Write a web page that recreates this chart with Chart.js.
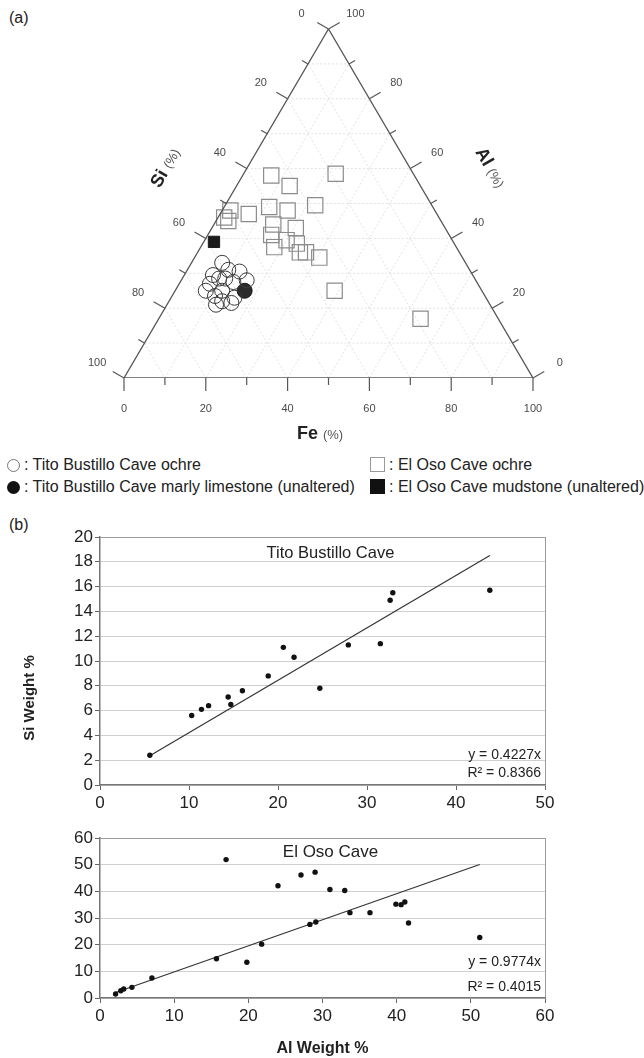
<!DOCTYPE html>
<html>
<head>
<meta charset="utf-8">
<script src="https://cdn.jsdelivr.net/npm/chart.js@4.4.0/dist/chart.umd.min.js"></script>
<style>
  body { margin: 0; background: #fff; font-family: "Liberation Sans", Arial, sans-serif; color: #222; }
  #page { position: relative; width: 644px; height: 1058px; overflow: hidden; }
  canvas { position: absolute; left: 0; }
  .lab { position: absolute; font-size: 16px; line-height: 18px; white-space: nowrap; color: #222; }
  .sym { display: inline-block; box-sizing: border-box; vertical-align: -2px; margin-right: 4px; }
</style>
</head>
<body>
<div id="page">
  <div class="lab" style="left:9px;top:9px">(a)</div>
  <canvas id="tern" width="644" height="450" style="top:0"></canvas>

  <div class="lab" style="left:7px;top:456px"><span class="sym" style="width:13px;height:13px;border:1.3px solid #777;border-radius:50%"></span>: Tito Bustillo Cave ochre</div>
  <div class="lab" style="left:7px;top:478px"><span class="sym" style="width:13px;height:13px;background:#111;border-radius:50%"></span>: Tito Bustillo Cave marly limestone (unaltered)</div>
  <div class="lab" style="left:370px;top:456px"><span class="sym" style="width:15px;height:15px;border:1.3px solid #999"></span>: El Oso Cave ochre</div>
  <div class="lab" style="left:370px;top:478px"><span class="sym" style="width:15px;height:15px;background:#111"></span>: El Oso Cave mudstone (unaltered)</div>

  <div class="lab" style="left:9px;top:516px">(b)</div>
  <canvas id="tito" width="644" height="310" style="top:505px"></canvas>
  <canvas id="oso" width="644" height="243" style="top:815px"></canvas>
</div>

<script>
// ternary compositions, [Si, Al, Fe] in %
const titoOchre = [
  [59.5, 33, 7.5], [63.5, 29.5, 7], [59, 31, 10], [56.5, 30.5, 13],
  [65.5, 27, 7.5], [62.5, 28.5, 9], [61, 28.5, 10.5], [59.5, 27.5, 13],
  [56, 28, 16], [66, 23.5, 10.5], [65, 22, 13], [61.5, 23, 15.5],
  [67, 21, 12], [63, 21.5, 15.5], [67.5, 25, 7.5], [63.5, 25, 11.5]
];
const titoLimestone = [[58, 25, 17]];
const osoOchre = [
  [35, 58, 7], [32, 55, 13], [19, 58.5, 22.5], [40, 49, 11], [36, 48, 16],
  [28.5, 49.5, 22], [46, 47, 7], [50, 48, 2], [52.5, 46, 1.5], [52, 45, 3],
  [41.5, 44, 14.5], [36.5, 43, 20.5], [43.5, 41, 15.5], [44.5, 37.5, 18],
  [40.5, 39.5, 20], [38.5, 38.5, 23], [39, 36, 25], [37.5, 36, 26.5],
  [35, 34.5, 30.5], [36, 25, 39], [19, 17, 64]
];
const osoMudstone = [[58.5, 39, 2.5]];
const ternTicks = [0, 10, 20, 30, 40, 50, 60, 70, 80, 90, 100];

// weight % scatter (Al on x, Si on y)
const titoAl = [5.6, 10.3, 11.4, 12.2, 14.4, 14.7, 16.0, 18.9, 20.6, 21.8, 24.7, 27.9, 31.5, 32.6, 32.9, 43.8];
const titoSi = [2.4, 5.6, 6.1, 6.4, 7.1, 6.5, 7.6, 8.8, 11.1, 10.3, 7.8, 11.3, 11.4, 14.9, 15.5, 15.7];
const titoSlope = 0.4227, titoR2 = 0.8366;

const osoAl = [2.1, 2.8, 3.2, 4.3, 7.0, 15.7, 17.0, 19.8, 21.8, 24.0, 27.1, 28.3, 29.1, 29.0, 31.0, 33.0, 33.7, 36.4, 39.9, 40.6, 41.1, 41.6, 51.2];
const osoSi = [1.5, 2.7, 3.4, 4.0, 7.5, 14.7, 51.9, 13.4, 20.2, 42.1, 46.1, 27.6, 28.5, 47.2, 40.7, 40.3, 32.0, 32.0, 35.2, 35.0, 36.0, 28.1, 22.7];
const osoSlope = 0.9774, osoR2 = 0.4015;

const FONT = '"Liberation Sans", Arial, sans-serif';

const toXY = ([si, al, fe]) => ({ x: fe + al / 2, y: al });

function seg(ctx, a, b) {
  ctx.beginPath();
  ctx.moveTo(a[0], a[1]);
  ctx.lineTo(b[0], b[1]);
  ctx.stroke();
}

function axisTitle(ctx, x, y, rot, bold, rest) {
  ctx.save();
  ctx.translate(x, y);
  ctx.rotate(rot);
  ctx.textAlign = 'left';
  ctx.textBaseline = 'middle';
  ctx.font = 'bold 18px ' + FONT;
  const w1 = ctx.measureText(bold + ' ').width;
  ctx.font = '13px ' + FONT;
  const w2 = ctx.measureText(rest).width;
  const s = -(w1 + w2) / 2;
  ctx.font = 'bold 18px ' + FONT;
  ctx.fillStyle = '#222';
  ctx.fillText(bold, s, 0);
  ctx.font = '13px ' + FONT;
  ctx.fillStyle = '#555';
  ctx.fillText(rest, s + w1, 1);
  ctx.restore();
}

const ternaryAxes = {
  id: 'ternaryAxes',
  beforeDatasetsDraw(chart) {
    const { ctx, scales: { x, y } } = chart;
    const pt = c => { const q = toXY(c); return [x.getPixelForValue(q.x), y.getPixelForValue(q.y)]; };
    ctx.save();
    ctx.strokeStyle = '#e2e2e2';
    ctx.lineWidth = 1;
    ctx.setLineDash([2, 2]);
    ternTicks.forEach(k => {
      if (k === 0 || k === 100) return;
      seg(ctx, pt([100 - k, k, 0]), pt([0, k, 100 - k]));
      seg(ctx, pt([100 - k, 0, k]), pt([0, 100 - k, k]));
      seg(ctx, pt([k, 100 - k, 0]), pt([k, 0, 100 - k]));
    });
    ctx.restore();
  },
  afterDatasetsDraw(chart) {
    const { ctx, scales: { x, y } } = chart;
    const pt = c => { const q = toXY(c); return [x.getPixelForValue(q.x), y.getPixelForValue(q.y)]; };
    ctx.save();
    ctx.strokeStyle = '#555';
    ctx.lineWidth = 1.2;
    ctx.fillStyle = '#4a4a4a';
    ctx.font = '11px ' + FONT;
    ctx.textAlign = 'center';
    ctx.textBaseline = 'middle';
    const down = [0, 1], left = [-0.866, -0.5], right = [0.866, -0.5];
    ternTicks.forEach(k => {
      const major = k % 20 === 0;
      const len = major ? 13 : 7;
      [[[100 - k, 0, k], down], [[k, 100 - k, 0], left], [[0, k, 100 - k], right]].forEach(([c, d]) => {
        const p = pt(c);
        seg(ctx, p, [p[0] + d[0] * len, p[1] + d[1] * len]);
        if (major) ctx.fillText(String(k), p[0] + d[0] * 31, p[1] + d[1] * 31);
      });
    });
    ctx.restore();
    axisTitle(ctx, 166, 168, -Math.PI / 3, 'Si', '(%)');
    axisTitle(ctx, 490, 168, Math.PI / 3, 'Al', '(%)');
    axisTitle(ctx, 320, 434, 0, 'Fe', '(%)');
  }
};

new Chart(document.getElementById('tern'), {
  type: 'scatter',
  data: {
    datasets: [
      {
        type: 'line',
        data: [[100, 0, 0], [0, 0, 100], [0, 100, 0], [100, 0, 0]].map(toXY),
        borderColor: '#555', borderWidth: 1.3, pointRadius: 0, fill: false
      },
      {
        data: osoOchre.map(toXY), pointStyle: 'rect', pointRadius: 10.8,
        backgroundColor: 'rgba(0,0,0,0)', borderColor: '#8c8c8c', borderWidth: 1.2, clip: false
      },
      {
        data: osoMudstone.map(toXY), pointStyle: 'rect', pointRadius: 8,
        backgroundColor: '#1a1a1a', borderColor: '#1a1a1a', borderWidth: 1, clip: false
      },
      {
        data: titoOchre.map(toXY), pointStyle: 'circle', pointRadius: 7.5,
        backgroundColor: 'rgba(0,0,0,0)', borderColor: '#3a3a3a', borderWidth: 1, clip: false
      },
      {
        data: titoLimestone.map(toXY), pointStyle: 'circle', pointRadius: 7.5,
        backgroundColor: '#2a2a2a', borderColor: '#1a1a1a', borderWidth: 1, clip: false
      }
    ]
  },
  options: {
    responsive: false,
    animation: false,
    layout: { padding: { left: 124, right: 111, top: 29, bottom: 72 } },
    scales: {
      x: { type: 'linear', min: 0, max: 100, display: false },
      y: { type: 'linear', min: 0, max: 100, display: false }
    },
    plugins: { legend: { display: false }, tooltip: { enabled: false } }
  },
  plugins: [ternaryAxes]
});

const chartNotes = {
  id: 'chartNotes',
  afterDraw(chart, args, o) {
    const { ctx, chartArea: a } = chart;
    ctx.save();
    ctx.fillStyle = '#222';
    ctx.textBaseline = 'middle';
    ctx.textAlign = 'center';
    ctx.font = o.nameFont + ' ' + FONT;
    ctx.fillText(o.name, (a.left + a.right) / 2 + 8, a.top + o.nameDy);
    ctx.font = '14px ' + FONT;
    ctx.textAlign = 'right';
    ctx.fillText('y = ' + o.slope + 'x', a.right - 4, a.bottom - o.eqDy);
    ctx.fillText('R\u00b2 = ' + o.r2, a.right - 4, a.bottom - o.r2Dy);
    if (o.yTitle) {
      ctx.translate(30, o.yTitleY);
      ctx.rotate(-Math.PI / 2);
      ctx.textAlign = 'center';
      ctx.font = 'bold 15px ' + FONT;
      ctx.fillText(o.yTitle, 0, 0);
    }
    ctx.restore();
  }
};

function weightChart(id, al, si, slope, xMax, yMax, yStep, padTop, xHeight, xTitle, notes) {
  const lo = Math.min(...al), hi = Math.max(...al);
  return new Chart(document.getElementById(id), {
    type: 'scatter',
    data: {
      datasets: [
        {
          data: al.map((v, i) => ({ x: v, y: si[i] })),
          pointRadius: 2.7, backgroundColor: '#111', borderWidth: 0
        },
        {
          type: 'line',
          data: [{ x: lo, y: slope * lo }, { x: hi, y: slope * hi }],
          borderColor: '#333', borderWidth: 1.2, pointRadius: 0, fill: false
        }
      ]
    },
    options: {
      responsive: false,
      animation: false,
      layout: { padding: { left: 0, right: 99, top: padTop, bottom: 0 } },
      scales: {
        x: {
          type: 'linear', min: 0, max: xMax,
          ticks: { stepSize: 10, color: '#222', font: { size: 17, family: FONT }, padding: 3 },
          grid: {
            color: c => (c.tick && c.tick.value === xMax ? '#9a9a9a' : 'rgba(0,0,0,0)'),
            tickColor: '#666', tickLength: 5
          },
          border: { color: '#777', width: 1.5 },
          title: xTitle ? { display: true, text: xTitle, color: '#222', font: { size: 16, weight: 'bold', family: FONT }, padding: { top: 0, bottom: 0 } } : { display: false },
          afterFit: s => { s.height = xHeight; }
        },
        y: {
          type: 'linear', min: 0, max: yMax,
          ticks: { stepSize: yStep, color: '#222', font: { size: 17, family: FONT }, padding: 2 },
          grid: {
            color: c => (c.tick && c.tick.value === yMax ? '#9a9a9a' : '#d0d0d0'),
            tickColor: '#666', tickLength: 5
          },
          border: { color: '#777', width: 1.5 },
          afterFit: s => { s.width = 100; }
        }
      },
      plugins: { legend: { display: false }, tooltip: { enabled: false }, chartNotes: notes }
    },
    plugins: [chartNotes]
  });
}

weightChart('tito', titoAl, titoSi, titoSlope, 50, 20, 2, 32, 30, null, {
  name: 'Tito Bustillo Cave', nameFont: '16.5px', nameDy: 16,
  slope: titoSlope, r2: titoR2, eqDy: 30, r2Dy: 12,
  yTitle: 'Si Weight %', yTitleY: 193
});

weightChart('oso', osoAl, osoSi, osoSlope, 60, 60, 10, 23, 60, 'Al Weight %', {
  name: 'El Oso Cave', nameFont: '17px', nameDy: 14,
  slope: osoSlope, r2: osoR2, eqDy: 36, r2Dy: 11
});
</script>
</body>
</html>
